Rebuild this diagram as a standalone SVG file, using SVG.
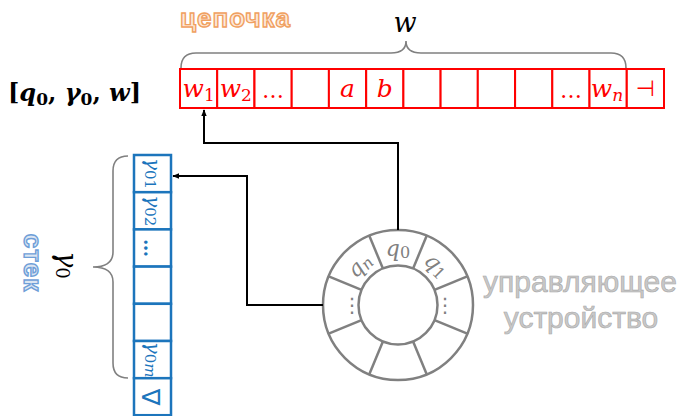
<svg xmlns="http://www.w3.org/2000/svg" width="683" height="416" viewBox="0 0 683 416">
  <defs>
    <marker id="arrow" viewBox="0 0 10 10" refX="9" refY="5" markerWidth="7" markerHeight="7" orient="auto" markerUnits="userSpaceOnUse">
      <path d="M0,1 L10,5 L0,9 Z" fill="#000"/>
    </marker>
    <style>
      .math { font-family: "DejaVu Serif", "Liberation Serif", serif; font-style: italic; }
      .sub { font-style: normal; }
      .tape rect { fill: #fff; stroke: #ff0000; stroke-width: 2; }
      .tape text { fill: #ff0000; font-size: 25px; text-anchor: middle; }
      .stack rect { fill: #fff; stroke: #1c75bc; stroke-width: 2.5; }
      .stack text { fill: #1c75bc; font-size: 20px; text-anchor: middle; dominant-baseline: central; }
      .brace { fill: none; stroke: #808080; stroke-width: 1.6; }
      .ring { fill: none; stroke: #808080; stroke-width: 2.5; }
      .ring-label { fill: #808080; font-size: 22px; text-anchor: middle; dominant-baseline: central; }
      .wire { fill: none; stroke: #000; stroke-width: 2; }
      .outline-orange { font-family: "Liberation Sans", Arial, sans-serif; font-weight: bold; font-size: 26px; fill: #fde9d9; stroke: #f0a060; stroke-width: 1.4; letter-spacing: 1px; }
      .outline-blue { font-family: "Liberation Sans", Arial, sans-serif; font-weight: bold; font-size: 26px; fill: #dce6f2; stroke: #6f9fd8; stroke-width: 1.4; letter-spacing: 1px; }
      .caption { font-family: "Liberation Sans", Arial, sans-serif; font-size: 30px; fill: #c8c8c8; stroke: #a8a8a8; stroke-width: 0.6; text-anchor: middle; }
    </style>
  </defs>

  <!-- configuration label -->
  <g id="config">
    <text x="8" y="101" font-family="DejaVu Serif, Liberation Serif, serif" font-size="24" font-weight="bold" fill="#000">[<tspan font-style="italic">q</tspan><tspan font-size="17" dy="4">0</tspan><tspan dy="-4">, </tspan><tspan font-style="italic">γ</tspan><tspan font-size="17" dy="4">0</tspan><tspan dy="-4">, </tspan><tspan font-style="italic">w</tspan>]</text>
  </g>

  <!-- input tape -->
  <g id="tape" class="tape math">
    <rect x="180" y="69" width="37.2" height="39"/>
    <rect x="217.2" y="69" width="37.2" height="39"/>
    <rect x="254.5" y="69" width="37.2" height="39"/>
    <rect x="291.7" y="69" width="37.2" height="39"/>
    <rect x="328.9" y="69" width="37.2" height="39"/>
    <rect x="366.2" y="69" width="37.2" height="39"/>
    <rect x="403.4" y="69" width="37.2" height="39"/>
    <rect x="440.6" y="69" width="37.2" height="39"/>
    <rect x="477.8" y="69" width="37.2" height="39"/>
    <rect x="515.1" y="69" width="37.2" height="39"/>
    <rect x="552.3" y="69" width="37.2" height="39"/>
    <rect x="589.5" y="69" width="37.2" height="39"/>
    <rect x="626.8" y="69" width="37.2" height="39"/>
    <text x="198.6" y="97">w<tspan class="sub" font-size="17" dy="4">1</tspan></text>
    <text x="235.8" y="97">w<tspan class="sub" font-size="17" dy="4">2</tspan></text>
    <text x="273" y="98" style="font-style:normal;font-size:22px">…</text>
    <text x="347.5" y="97">a</text>
    <text x="384.8" y="97">b</text>
    <text x="570.9" y="98" style="font-style:normal;font-size:22px">…</text>
    <text x="607" y="97">w<tspan font-size="17" dy="4">n</tspan></text>
    <text x="645.4" y="96" style="font-style:normal;font-family:'DejaVu Sans',sans-serif;font-size:22px">⊣</text>
  </g>

  <!-- tape brace and its label -->
  <g id="tape-brace">
    <path class="brace" d="M181,68 Q181,53 196,53 H391 Q406,53 406,41 Q406,53 421,53 H611 Q626,53 626,68"/>
    <text class="math" x="405" y="32" font-size="27" text-anchor="middle" fill="#000">w</text>
  </g>

  <g id="tape-title">
    <text class="outline-orange" x="180" y="27">цепочка</text>
  </g>

  <!-- stack -->
  <g id="stack" class="stack math">
    <rect x="134" y="155" width="37" height="37.2"/>
    <rect x="134" y="192.2" width="37" height="37.2"/>
    <rect x="134" y="229.4" width="37" height="37.2"/>
    <rect x="134" y="266.6" width="37" height="37.2"/>
    <rect x="134" y="303.8" width="37" height="37.2"/>
    <rect x="134" y="341" width="37" height="37.2"/>
    <rect x="134" y="378.2" width="37" height="37"/>
    <text transform="translate(153,173.6) rotate(90)">γ<tspan class="sub" font-size="15" dy="3">01</tspan></text>
    <text transform="translate(153,210.8) rotate(90)">γ<tspan class="sub" font-size="15" dy="3">02</tspan></text>
    <text transform="translate(150,248) rotate(90)" style="font-style:normal;font-weight:bold;font-size:18px">…</text>
    <text transform="translate(153,359.6) rotate(90)">γ<tspan class="sub" font-size="15" dy="3">0</tspan><tspan font-size="15">m</tspan></text>
    <text transform="translate(150.5,397) rotate(90)" style="font-style:normal;font-family:'DejaVu Sans',sans-serif;font-size:25px">∇</text>
  </g>

  <!-- stack brace and its label -->
  <g id="stack-brace">
    <path class="brace" d="M128,156 Q113,156 113,171 V252 Q113,267 93,267 Q113,267 113,282 V363 Q113,378 128,378"/>
    <text class="math" transform="translate(67,265) rotate(90)" font-size="27" text-anchor="middle" dominant-baseline="central" fill="#000">γ<tspan class="sub" font-size="18" dy="4">0</tspan></text>
  </g>

  <g id="stack-title">
    <text class="outline-blue" transform="translate(33,263) rotate(90)" text-anchor="middle" dominant-baseline="central">стек</text>
  </g>

  <!-- control unit: ring of 8 state cells -->
  <g id="control" transform="translate(398,305)">
    <circle class="ring" r="75"/>
    <circle class="ring" r="39.5"/>
    <g class="ring">
      <line x1="15.1" y1="-36.5" x2="28.7" y2="-69.3"/>
      <line x1="36.5" y1="-15.1" x2="69.3" y2="-28.7"/>
      <line x1="36.5" y1="15.1" x2="69.3" y2="28.7"/>
      <line x1="15.1" y1="36.5" x2="28.7" y2="69.3"/>
      <line x1="-15.1" y1="36.5" x2="-28.7" y2="69.3"/>
      <line x1="-36.5" y1="15.1" x2="-69.3" y2="28.7"/>
      <line x1="-36.5" y1="-15.1" x2="-69.3" y2="-28.7"/>
      <line x1="-15.1" y1="-36.5" x2="-28.7" y2="-69.3"/>
    </g>
    <g class="ring-label math">
      <text x="0" y="-57">q<tspan class="sub" font-size="16" dy="4">0</tspan></text>
      <text transform="translate(39,-40) rotate(45)">q<tspan class="sub" font-size="16" dy="4">1</tspan></text>
      <text transform="translate(-39,-40) rotate(-45)">q<tspan font-size="16" dy="4">n</tspan></text>
      <text x="-46" y="0" font-style="normal" font-family="DejaVu Sans, sans-serif" font-size="20">⋮</text>
      <text x="47" y="0" font-style="normal" font-family="DejaVu Sans, sans-serif" font-size="20">⋮</text>
    </g>
  </g>

  <g id="control-title">
    <text class="caption" x="580" y="292">управляющее</text>
    <text class="caption" x="581" y="328">устройство</text>
  </g>

  <!-- connectors: control unit to tape head and stack top -->
  <g id="connectors">
    <path class="wire" d="M398,230 V143 H204 V110" marker-end="url(#arrow)"/>
    <path class="wire" d="M323,305 H247 V176 H173" marker-end="url(#arrow)"/>
  </g>
</svg>
